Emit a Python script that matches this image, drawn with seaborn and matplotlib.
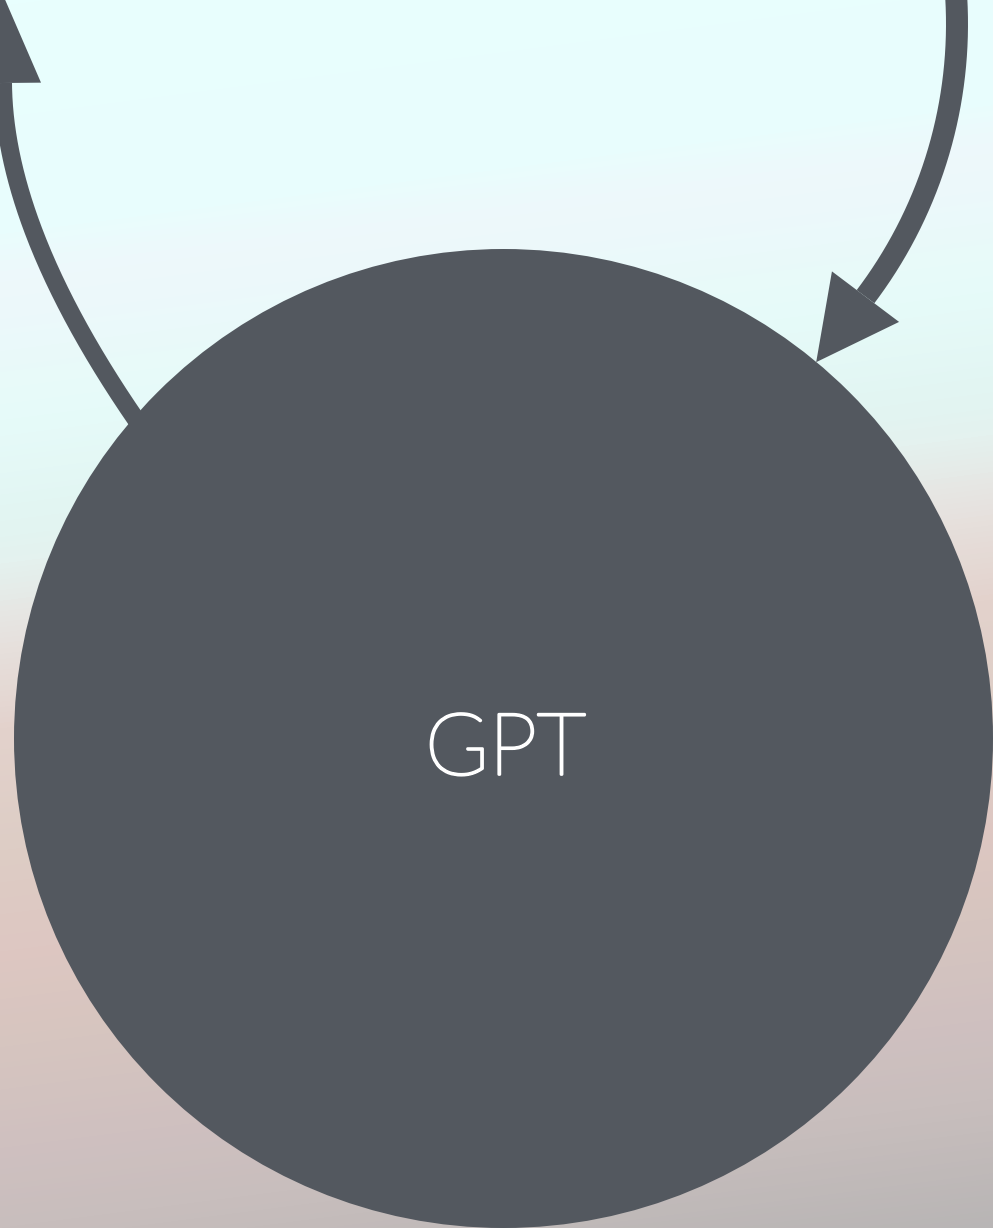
import numpy as np
import matplotlib
matplotlib.use("Agg")
import matplotlib.pyplot as plt
import matplotlib.patheffects as pe
from matplotlib.patches import Circle, Polygon
from matplotlib.colors import LinearSegmentedColormap
import seaborn as sns

sns.set_theme(style="white")
plt.rcParams["font.family"] = ["Lato", "Roboto", "DejaVu Sans"]

# ── canvas (pixel units) ──
W, H = 993, 1228
DARK = "#53585f"

# background gradient stops (position along slanted axis, colour)
bg_pos = [0, 230, 280, 420, 520, 560, 630, 730, 850, 950, 1050, 1150, 1230, 1360]
bg_col = ["#e8fffe", "#e9fdfd", "#eef8fb", "#e6fbf9", "#e2f5f2", "#e4f2ef",
          "#e7e3e0", "#e3d2cc", "#ddcdc5", "#dec7c2", "#d6c5bf", "#cfc0c0",
          "#c8bebd", "#b8b5b5"]
bg_slant = 0.13

# node
node_label = "GPT"
node_xy = (503.5, 738.5)
node_r = 489.5

# outgoing edge (left): quadratic bezier start, control, end (px)
edge_left = dict(pts=[(137, 421), (4, 228), (3, 83)],
                 lw=18, head_len=90, head_w=38)
# incoming edge (right): circular arc centre, radius, angles (deg, y-down)
edge_right = dict(c=(505, 24), r=452, a0=-12, a1=37.1,
                  lw=22, head_len=82, head_w=42)

fig = plt.figure(figsize=(W / 100, H / 100), dpi=100)
ax = fig.add_axes([0, 0, 1, 1])
ax.set_xlim(0, W)
ax.set_ylim(H, 0)
ax.axis("off")

# background
yy, xx = np.mgrid[0:H, 0:W]
t = (yy + bg_slant * xx) / bg_pos[-1]
cmap = LinearSegmentedColormap.from_list(
    "bg", list(zip(np.array(bg_pos) / bg_pos[-1], bg_col)))
ax.imshow(cmap(np.clip(t, 0, 1)), extent=(0, W, H, 0), zorder=0, aspect="auto")


def arrow(x, y, spec):
    ax.plot(x, y, color=DARK, lw=spec["lw"] * 0.72, solid_capstyle="butt", zorder=2)
    tang = np.array([x[-1] - x[-2], y[-1] - y[-2]])
    tang /= np.hypot(*tang)
    norm = np.array([-tang[1], tang[0]])
    base = np.array([x[-1], y[-1]])
    tip = base + spec["head_len"] * tang
    pts = [tip, base + spec["head_w"] * norm, base - spec["head_w"] * norm]
    ax.add_patch(Polygon(pts, closed=True, color=DARK, lw=0, zorder=2))


# left edge (quadratic bezier)
s = np.linspace(0, 1, 200)[:, None]
P = np.array(edge_left["pts"], dtype=float)
B = (1 - s) ** 2 * P[0] + 2 * (1 - s) * s * P[1] + s ** 2 * P[2]
arrow(B[:, 0], B[:, 1], edge_left)

# right edge (arc)
cx, cy = edge_right["c"]
th = np.radians(np.linspace(edge_right["a0"], edge_right["a1"], 200))
arrow(cx + edge_right["r"] * np.cos(th), cy + edge_right["r"] * np.sin(th), edge_right)

ax.add_patch(Circle(node_xy, node_r, color=DARK, lw=0, zorder=3))
ax.text(node_xy[0] + 2, node_xy[1] + 13, node_label, color="white", fontsize=62,
        fontweight="light", ha="center", va="center", zorder=4,
        path_effects=[pe.withStroke(linewidth=2.0, foreground="white")])

fig.savefig("out.png", dpi=100)
